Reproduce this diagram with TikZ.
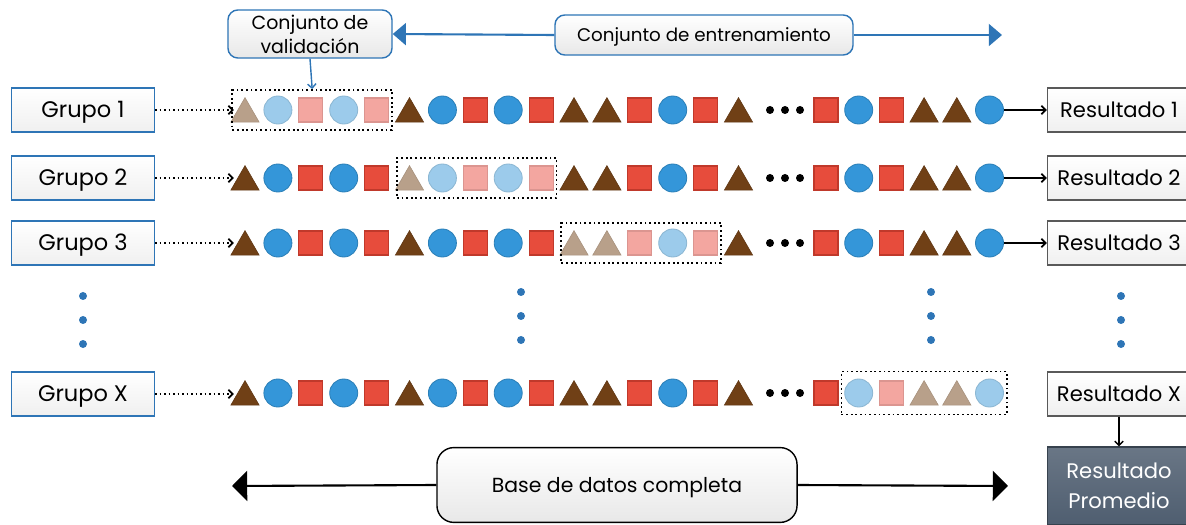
\documentclass[tikz,border=0pt]{standalone}
\usepackage{fontspec}
\setmainfont{Poppins}
\usetikzlibrary{shapes.geometric,positioning,fit,arrows.meta,calc}

\definecolor{cafe}{RGB}{112,64,22}
\definecolor{azul}{RGB}{52,150,217}
\definecolor{rojo}{RGB}{231,76,60}
\definecolor{rojob}{RGB}{192,57,43}
\definecolor{cafef}{RGB}{184,160,138}
\definecolor{azulf}{RGB}{156,203,235}
\definecolor{rojof}{RGB}{243,166,160}
\definecolor{marco}{RGB}{46,117,182}
\definecolor{pizarra}{RGB}{79,94,112}

\tikzset{
  tri0/.style={regular polygon, regular polygon sides=3, fill=cafe, draw=cafe!85!black, minimum size=0.82cm, inner sep=0pt, yshift=-0.1cm},
  tri1/.style={tri0, fill=cafef, draw=cafef!90!black},
  bol0/.style={circle, fill=azul, draw=azul!85!black, line width=0.6pt, minimum size=0.7cm, inner sep=0pt},
  bol1/.style={bol0, fill=azulf, draw=azulf!90!black},
  sq0/.style={rectangle, fill=rojo, draw=rojob, line width=0.8pt, minimum size=0.6cm, inner sep=0pt},
  sq1/.style={sq0, fill=rojof, draw=rojof!90!black},
  valbox/.style={draw, dotted, line width=1.3pt, inner xsep=2pt, inner ysep=5pt},
  grupo/.style={draw=marco, line width=0.9pt, top color=white, bottom color=gray!12, minimum width=3.575cm, minimum height=1.1cm, text height=11.3pt, text depth=0pt, font=\fontsize{16}{18}\selectfont},
  resul/.style={grupo, draw=black!65, text height=10.6pt, font=\fontsize{15}{17}\selectfont},
  caja/.style={draw=marco, line width=1pt, rounded corners=7pt, top color=white, bottom color=gray!18, align=center},
  punteada/.style={dotted, line width=1.2pt, -{Straight Barb[length=3pt,width=6pt]}, shorten >=1pt},
  salida/.style={line width=1.2pt, -{Straight Barb[length=3pt,width=6pt]}},
  flechaazul/.style={draw=marco, line width=1.5pt, -{Triangle[length=0.33cm,width=0.55cm]}},
  flechanegra/.style={line width=1.5pt, -{Triangle[length=0.38cm,width=0.75cm]}}
}

% fila de figuras: y, nombre, inicio y fin del bloque de validacion
\newcommand{\fila}[4]{%
  \foreach \i/\k in {1/tri,2/bol,3/sq,4/bol,5/sq,6/tri,7/bol,8/sq,9/bol,10/sq,11/tri,12/tri,13/sq,14/bol,15/sq,16/tri,17/sq,18/bol,19/sq,20/tri,21/tri,22/bol}{
    \pgfmathsetmacro\xx{\i<17 ? 245+32.9*(\i-1) : 826+32.7*(\i-17)}
    \pgfmathtruncatemacro\fd{and(\i>=#3,\i<=#4)}
    \node[\k\fd] (#2-\i) at (\xx,#1) {};
  }
  \foreach \d in {770,785,800} \fill (\d,#1) circle (4);
}

\begin{document}
\begin{tikzpicture}[x=0.025cm, y=-0.025cm]
\useasboundingbox (0,0) rectangle (1186,525);

% filas
\fila{110}{f1}{1}{5}
\fila{178}{f2}{6}{10}
\fila{243}{f3}{11}{15}
\fila{393}{fx}{18}{22}

\node[valbox, fit=(f1-1)(f1-5)] (v1) {};
\node[valbox, fit=(f2-6)(f2-10)] (v2) {};
\node[valbox, fit=(f3-11)(f3-15)] (v3) {};
\node[valbox, fit=(fx-18)(fx-22)] (vx) {};

% grupos
\node[grupo] (g1) at (83,110) {Grupo 1};
\node[grupo] (g2) at (83,178) {Grupo 2};
\node[grupo] (g3) at (83,243) {Grupo 3};
\node[grupo] (gx) at (83,394) {Grupo X};

\draw[punteada] (g1.east) -- (g1.east-|f1-1.west);
\draw[punteada] (g2.east) -- (g2.east-|f2-1.west);
\draw[punteada] (g3.east) -- (g3.east-|f3-1.west);
\draw[punteada] (gx.east) -- (gx.east-|fx-1.west);

% resultados
\node[resul] (r1) at (1119,110) {Resultado 1};
\node[resul] (r2) at (1119,178) {Resultado 2};
\node[resul] (r3) at (1119,243) {Resultado 3};
\node[resul] (rx) at (1119,394) {Resultado X};
\node[resul, draw=pizarra!70!black, top color=pizarra!85, bottom color=pizarra, text=white, align=center, minimum height=1.95cm, text height=, text depth=, font=\fontsize{15}{21}\selectfont] (prom) at (1119,486) {Resultado\\Promedio};

\draw[salida] (f1-22) -- (r1);
\draw[salida] (f2-22) -- (r2);
\draw[salida] (f3-22) -- (r3);
\draw[line width=1pt, -{Straight Barb[length=3pt,width=6pt]}] (rx) -- (prom);

% puntos verticales
\foreach \px/\py in {83/296,83/320,83/344,521/292,521/316,521/340,931/292,931/316,931/340,1121/296,1121/320,1121/344}
  \fill[marco] (\px,\py) circle (4);

% conjuntos
\node[caja, minimum width=4.1cm, minimum height=1.2cm, font=\fontsize{13.5}{17}\selectfont] (val) at (310,34) {Conjunto de\\validación};
\node[caja, minimum width=7.45cm, minimum height=1cm, text height=9.2pt, text depth=0pt, font=\fontsize{13}{15}\selectfont] (ent) at (704,35) {Conjunto de entrenamiento};
\coordinate (entfin) at (1002,35);
\draw[flechaazul] (ent.west) -- (val.east);
\draw[flechaazul] (ent.east) -- (entfin);
\draw[draw=marco, line width=1pt, -{Straight Barb[length=3pt,width=6pt]}] (val.south) -- (v1.north);

% base completa
\node[caja, draw=black, rounded corners=12pt, minimum width=9cm, minimum height=1.87cm, text height=10.3pt, text depth=0pt, font=\fontsize{14.5}{17}\selectfont] (base) at (617,485) {Base de datos completa};
\coordinate (baseizq) at (232,486);
\coordinate (baseder) at (1008,486);
\draw[flechanegra] (base.west) -- (baseizq);
\draw[flechanegra] (base.east) -- (baseder);
\end{tikzpicture}
\end{document}
